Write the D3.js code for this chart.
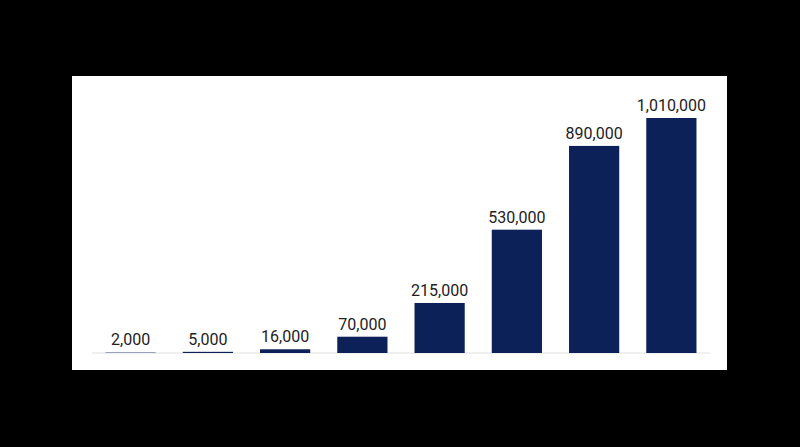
<!DOCTYPE html>
<html><head><meta charset="utf-8">
<script src="https://cdn.jsdelivr.net/npm/d3@7"></script>
<style>html,body{margin:0;padding:0;background:#000;}</style>
</head><body>
<svg id="c" width="800" height="447"></svg>
<script>
const categories = ["A","B","C","D","E","F","G","H"];
const values = [2000, 5000, 16000, 70000, 215000, 530000, 890000, 1010000];

const svg = d3.select("#c");
svg.append("rect").attr("width",800).attr("height",447).attr("fill","#000");
svg.append("rect").attr("x",72).attr("y",76).attr("width",655).attr("height",294).attr("fill","#fff");

const x = d3.scaleBand().domain(categories).range([92,710]).paddingInner(0.35).paddingOuter(0.175);
const y = d3.scaleLinear().domain([0,1010000]).range([353,118]);

svg.append("line").attr("x1",92).attr("x2",710).attr("y1",353).attr("y2",353)
  .attr("stroke","#e0e0e0").attr("stroke-width",1);

svg.selectAll("rect.bar").data(values).enter().append("rect").attr("class","bar")
  .attr("x",(d,i)=>x(categories[i])).attr("width",x.bandwidth())
  .attr("y",d=>Math.min(y(d),352)).attr("height",d=>Math.max(353-y(d),1))
  .attr("fill",(d,i)=>i===0?"#9aa3b8":"#0b2158");

svg.selectAll("text.lab").data(values).enter().append("text").attr("class","lab")
  .attr("x",(d,i)=>x(categories[i])+x.bandwidth()/2).attr("y",d=>Math.min(y(d),352)-7)
  .attr("text-anchor","middle").attr("font-family","Roboto, sans-serif").attr("font-size",16)
  .attr("fill","#222").text(d=>d3.format(",")(d));
</script>
</body></html>
